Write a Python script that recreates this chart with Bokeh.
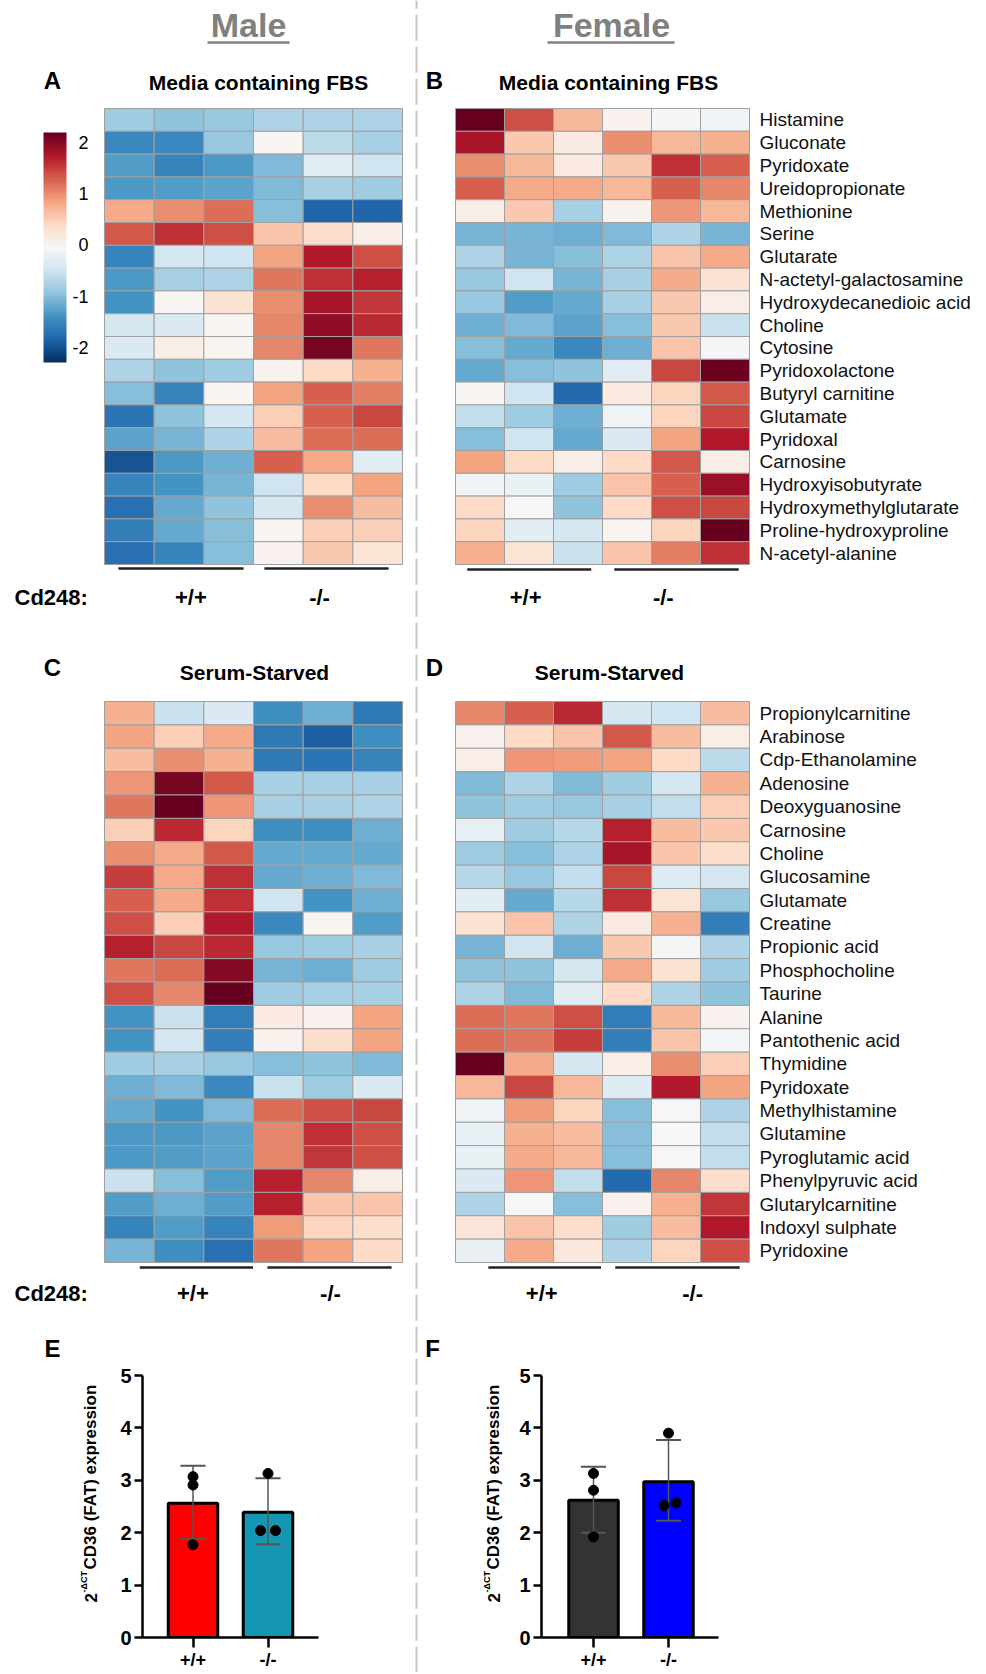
import numpy as np
from bokeh.plotting import figure
from bokeh.models import Range1d, LinearColorMapper, ColumnDataSource, FixedTicker
from bokeh.layouts import row, column
from bokeh.embed import file_html
from bokeh.resources import INLINE
from bokeh.core.properties import value
from bokeh.transform import transform

FONT = "Liberation Sans"

# ---------------- data ----------------
genotypes = ["+/+", "-/-"]
cb_ticks = [2, 1, 0, -1, -2]

a_values = [
    [-0.85, -0.95, -0.9, -0.75, -0.75, -0.75],
    [-1.5, -1.5, -0.9, 0.0, -0.65, -0.8],
    [-1.3, -1.55, -1.35, -1.05, -0.3, -0.5],
    [-1.35, -1.3, -1.25, -1.05, -0.8, -0.85],
    [0.8, 1.0, 1.2, -1.0, -1.85, -1.85],
    [1.35, 1.6, 1.4, 0.6, 0.35, 0.1],
    [-1.55, -0.45, -0.5, 0.85, 1.75, 1.4],
    [-1.35, -0.8, -0.75, 1.15, 1.6, 1.7],
    [-1.4, 0.0, 0.3, 1.0, 1.8, 1.55],
    [-0.45, -0.4, 0.0, 1.05, 1.95, 1.65],
    [-0.4, 0.1, 0.0, 1.05, 2.1, 1.15],
    [-0.75, -0.95, -0.85, 0.05, 0.4, 0.75],
    [-1.0, -1.55, 0.0, 0.85, 1.3, 1.1],
    [-1.7, -0.95, -0.45, 0.5, 1.3, 1.45],
    [-1.25, -1.1, -0.75, 0.65, 1.2, 1.2],
    [-2.0, -1.35, -1.15, 1.3, 0.8, -0.3],
    [-1.55, -1.4, -1.1, -0.5, 0.4, 0.85],
    [-1.75, -1.2, -0.95, -0.45, 1.0, 0.65],
    [-1.6, -1.2, -1.0, 0.0, 0.5, 0.5],
    [-1.75, -1.55, -1.0, 0.05, 0.55, 0.25],
]

b_metabolites = ["Histamine", "Gluconate", "Pyridoxate", "Ureidopropionate", "Methionine",
                 "Serine", "Glutarate", "N-actetyl-galactosamine", "Hydroxydecanedioic acid",
                 "Choline", "Cytosine", "Pyridoxolactone", "Butyryl carnitine", "Glutamate",
                 "Pyridoxal", "Carnosine", "Hydroxyisobutyrate", "Hydroxymethylglutarate",
                 "Proline-hydroxyproline", "N-acetyl-alanine"]
b_values = [
    [2.25, 1.4, 0.7, 0.05, -0.1, -0.15],
    [1.8, 0.55, 0.15, 1.0, 0.7, 0.75],
    [1.0, 0.7, 0.15, 0.55, 1.6, 1.3],
    [1.3, 0.8, 0.8, 0.7, 1.3, 1.05],
    [0.1, 0.55, -0.8, 0.05, 0.95, 0.7],
    [-1.1, -1.1, -1.15, -1.05, -0.75, -1.1],
    [-0.75, -1.1, -1.0, -0.75, 0.6, 0.8],
    [-0.9, -0.5, -1.1, -0.8, 0.8, 0.3],
    [-0.9, -1.3, -1.2, -0.8, 0.55, 0.1],
    [-1.15, -1.05, -1.25, -1.0, 0.55, -0.55],
    [-1.0, -1.2, -1.5, -1.15, 0.6, -0.1],
    [-1.2, -1.0, -0.95, -0.3, 1.45, 2.15],
    [0.0, -0.5, -1.8, 0.15, 0.45, 1.35],
    [-0.6, -0.85, -1.15, -0.15, 0.45, 1.45],
    [-1.0, -0.5, -1.2, -0.4, 0.85, 1.75],
    [0.85, 0.4, 0.1, 0.4, 1.35, 0.1],
    [-0.15, -0.2, -0.85, 0.6, 1.3, 1.9],
    [0.4, -0.05, -0.95, 0.4, 1.4, 1.45],
    [0.45, -0.3, -0.45, 0.0, 0.45, 2.35],
    [0.75, 0.25, -0.55, 0.6, 1.1, 1.6],
]

c_values = [
    [0.75, -0.55, -0.4, -1.45, -1.15, -1.65],
    [0.85, 0.5, 0.8, -1.65, -1.9, -1.45],
    [0.65, 1.0, 0.75, -1.65, -1.7, -1.55],
    [0.95, 2.1, 1.35, -0.8, -0.8, -0.8],
    [1.15, 2.35, 0.95, -0.8, -0.8, -0.75],
    [0.5, 1.65, 0.45, -1.45, -1.45, -1.15],
    [1.0, 0.8, 1.35, -1.2, -1.2, -1.2],
    [1.5, 0.8, 1.6, -1.2, -1.15, -1.05],
    [1.3, 0.8, 1.6, -0.5, -1.4, -1.15],
    [1.4, 0.5, 1.75, -1.5, 0.0, -1.3],
    [1.7, 1.45, 1.65, -0.9, -0.85, -0.8],
    [1.15, 1.2, 2.0, -1.1, -1.15, -0.85],
    [1.4, 1.05, 2.2, -0.85, -0.8, -0.8],
    [-1.4, -0.55, -1.6, 0.15, 0.05, 0.85],
    [-1.4, -0.45, -1.6, 0.05, 0.35, 0.85],
    [-0.85, -0.8, -0.9, -1.0, -0.95, -1.05],
    [-1.15, -1.05, -1.5, -0.55, -0.85, -0.4],
    [-1.2, -1.4, -1.05, 1.2, 1.4, 1.45],
    [-1.35, -1.35, -1.25, 1.05, 1.6, 1.4],
    [-1.35, -1.3, -1.25, 1.05, 1.55, 1.4],
    [-0.55, -1.0, -1.3, 1.7, 1.05, 0.1],
    [-1.3, -1.15, -1.3, 1.7, 0.6, 0.6],
    [-1.55, -1.3, -1.55, 0.9, 0.45, 0.35],
    [-1.1, -1.45, -1.75, 1.15, 0.85, 0.4],
]

d_metabolites = ["Propionylcarnitine", "Arabinose", "Cdp-Ethanolamine", "Adenosine",
                 "Deoxyguanosine", "Carnosine", "Choline", "Glucosamine", "Glutamate",
                 "Creatine", "Propionic acid", "Phosphocholine", "Taurine", "Alanine",
                 "Pantothenic acid", "Thymidine", "Pyridoxate", "Methylhistamine",
                 "Glutamine", "Pyroglutamic acid", "Phenylpyruvic acid", "Glutarylcarnitine",
                 "Indoxyl sulphate", "Pyridoxine"]
d_values = [
    [1.05, 1.3, 1.65, -0.45, -0.5, 0.65],
    [0.05, 0.4, 0.6, 1.35, 0.65, 0.1],
    [0.1, 0.95, 0.9, 0.85, 0.4, -0.65],
    [-1.05, -0.75, -1.05, -0.85, -0.45, 0.75],
    [-0.95, -0.85, -0.9, -0.8, -0.6, 0.5],
    [-0.25, -0.85, -0.7, 1.7, 0.65, 0.55],
    [-0.85, -1.0, -0.75, 1.8, 0.6, 0.35],
    [-0.7, -0.9, -0.6, 1.45, -0.35, -0.45],
    [-0.3, -1.2, -0.7, 1.6, 0.25, -0.9],
    [0.3, 0.6, -0.75, 0.15, 0.75, -1.6],
    [-1.1, -0.5, -1.15, 0.55, -0.1, -0.75],
    [-0.95, -0.95, -0.45, 0.8, 0.3, -0.85],
    [-0.75, -1.05, -0.3, 0.4, -0.75, -0.95],
    [1.2, 1.15, 1.4, -1.6, 0.7, 0.05],
    [1.2, 1.15, 1.5, -1.6, 0.6, -0.1],
    [2.35, 0.8, -0.45, 0.1, 1.0, 0.5],
    [0.7, 1.45, 0.7, -0.35, 1.75, 0.85],
    [-0.15, 0.9, 0.45, -1.0, -0.05, -0.75],
    [-0.25, 0.75, 0.65, -1.0, -0.05, -0.6],
    [-0.2, 0.8, 0.7, -1.0, -0.05, -0.6],
    [-0.4, 0.95, -0.6, -1.8, 1.05, 0.35],
    [-0.75, -0.05, -1.0, 0.05, 0.75, 1.55],
    [0.25, 0.6, 0.35, -0.85, 0.65, 1.75],
    [-0.2, 0.8, 0.2, -0.75, 0.45, 1.4],
]

e_means = [2.56, 2.39]
e_upper = [3.28, 3.04]
e_lower = [1.88, 1.78]
e_points = [[3.07, 2.91, 1.77], [3.13, 2.04, 2.04]]
e_jitter = [[0.0, 0.0, 0.0], [0.0, -0.1, 0.1]]
e_colors = ["#ff0000", "#1597b1"]

f_means = [2.62, 2.97]
f_upper = [3.26, 3.77]
f_lower = [2.00, 2.23]
f_points = [[3.13, 2.81, 1.92], [3.90, 2.52, 2.57]]
f_jitter = [[0.0, 0.0, 0.0], [0.0, -0.06, 0.1]]
f_colors = ["#333333", "#0000ff"]

# diverging palette, low (blue) -> high (red)
RDBU = ["#053061", "#2166ac", "#4393c3", "#92c5de", "#d1e5f0", "#f7f7f7",
        "#fddbc7", "#f4a582", "#d6604d", "#b2182b", "#67001f"]


# ---------------- helpers ----------------
def interp_palette(colors, n):
    rgb = np.array([[int(c[i:i + 2], 16) for i in (1, 3, 5)] for c in colors], float)
    pos = np.linspace(0, 1, len(colors))
    t = np.linspace(0, 1, n)
    out = np.stack([np.interp(t, pos, rgb[:, k]) for k in range(3)], 1)
    return ["#%02x%02x%02x" % tuple(int(round(v)) for v in r) for r in out]


PALETTE = interp_palette(RDBU, 256)
CB_LOW, CB_HIGH = -2.3, 2.2
mapper = LinearColorMapper(palette=PALETTE, low=CB_LOW, high=CB_HIGH)


def bare_figure(w, h, xr, yr):
    p = figure(width=w, height=h, x_range=xr, y_range=yr, toolbar_location=None,
               output_backend="svg", x_axis_location=None, y_axis_location=None,
               min_border=0)
    p.frame_align = False
    p.grid.visible = False
    p.outline_line_color = None
    return p


class HeatPanel:
    """A figure whose frame fills the whole figure; cells in column/row units."""

    def __init__(self, fig_x, fig_y, w, h, box, nrows, ncols=6):
        l, r, t, b = box
        self.l, self.t = l, t
        self.cw = (r - l) / ncols
        self.rh = (b - t) / nrows
        xr = Range1d(self.x(fig_x), self.x(fig_x + w))
        yr = Range1d(self.y(fig_y + h), self.y(fig_y))
        self.p = bare_figure(w, h, xr, yr)

    def x(self, X):
        return (X - self.l) / self.cw

    def y(self, Y):
        return (Y - self.t) / self.rh

    def text(self, X, Y, s, size, bold=False, color="black", align="center"):
        self.p.text(x=[self.x(X)], y=[self.y(Y)], text=[s], text_font=value(FONT),
                    text_font_size=size, text_font_style="bold" if bold else "normal",
                    text_color=color, text_align=align, text_baseline="middle")

    def heat(self, vals):
        xs, ys, vs = [], [], []
        for i, rv in enumerate(vals):
            for j, v in enumerate(rv):
                xs.append(j + 0.5)
                ys.append(i + 0.5)
                vs.append(v)
        src = ColumnDataSource(dict(x=xs, y=ys, v=vs))
        self.p.rect("x", "y", 1, 1, source=src, fill_color=transform("v", mapper),
                    line_color="#a0a0a0", line_width=1)

    def row_labels(self, names, X, size="19px"):
        self.p.text(x=[self.x(X)] * len(names), y=[i + 0.5 for i in range(len(names))],
                    text=names, text_font=value(FONT), text_font_size=size,
                    text_align="left", text_baseline="middle", text_color="#111111")

    def groups(self, lines, label_x, Yline, Ylab, show_cd=False):
        self.p.segment(x0=[a for a, b in lines], x1=[b for a, b in lines],
                       y0=[self.y(Yline)] * 2, y1=[self.y(Yline)] * 2,
                       line_color="#222222", line_width=2.5)
        self.p.text(x=label_x, y=[self.y(Ylab)] * 2, text=genotypes, text_font=value(FONT),
                    text_font_size="22px", text_font_style="bold", text_align="center",
                    text_baseline="middle")
        if show_cd:
            self.text(14, Ylab, "Cd248:", "22px", bold=True, align="left")


# ---------------- geometry (page pixels, page origin = top-left) ----------------
LW, SW, RW = 414, 4, 562
H1, H2, H3 = 620, 688, 364
Y1, Y2, Y3 = 0, H1, H1 + H2
XL, XR = 0, LW + SW

# Panel A
A = HeatPanel(XL, Y1, LW, H1, (104, 402, 108, 564), len(a_values))
A.text(248, 24, "Male", "34px", bold=True, color="#808080")
A.p.segment(x0=[A.x(207)], x1=[A.x(289)], y0=[A.y(42)], y1=[A.y(42)], line_color="#808080", line_width=2.5)
A.text(52, 80, "A", "24px", bold=True)
A.text(258, 82, "Media containing FBS", "21px", bold=True)
A.heat(a_values)
A.groups([(0.28, 2.80), (3.22, 5.72)], [1.74, 4.33], 568, 597, show_cd=True)


def cb_val(Y):
    return CB_HIGH - (Y - 132) * (CB_HIGH - CB_LOW) / (362 - 132)


A.p.extra_y_ranges = {"cb": Range1d(cb_val(Y1 + H1), cb_val(Y1))}
A.p.image(image=[np.linspace(CB_LOW, CB_HIGH, 300).reshape(-1, 1)], x=A.x(43), y=CB_LOW,
          dw=A.x(66) - A.x(43), dh=CB_HIGH - CB_LOW, color_mapper=mapper, y_range_name="cb")
A.p.text(x=[A.x(88)] * len(cb_ticks), y=cb_ticks, text=[str(t) for t in cb_ticks],
         text_font=value(FONT), text_font_size="18px", text_align="right",
         text_baseline="middle", y_range_name="cb")

# Panel B
B = HeatPanel(XR, Y1, RW, H1, (455, 749, 108, 564), len(b_values))
B.text(611, 24, "Female", "34px", bold=True, color="#808080")
B.p.segment(x0=[B.x(547)], x1=[B.x(674)], y0=[B.y(42)], y1=[B.y(42)], line_color="#808080", line_width=2.5)
B.text(434, 80, "B", "24px", bold=True)
B.text(608, 82, "Media containing FBS", "21px", bold=True)
B.heat(b_values)
B.row_labels(b_metabolites, 759)
B.groups([(0.24, 2.77), (3.24, 5.78)], [1.43, 4.24], 569, 597)

# Panel C
C = HeatPanel(XL, Y2, LW, H2, (104, 402, 701, 1262), len(c_values))
C.text(52, 667, "C", "24px", bold=True)
C.text(254, 672, "Serum-Starved", "21px", bold=True)
C.heat(c_values)
C.groups([(0.71, 2.99), (3.28, 5.78)], [1.78, 4.55], 1267, 1293, show_cd=True)

# Panel D
D = HeatPanel(XR, Y2, RW, H2, (455, 749, 701, 1262), len(d_values))
D.text(434, 667, "D", "24px", bold=True)
D.text(609, 672, "Serum-Starved", "21px", bold=True)
D.heat(d_values)
D.row_labels(d_metabolites, 759)
D.groups([(0.67, 2.97), (3.26, 5.80)], [1.76, 4.84], 1267, 1293)


# ---------------- bar charts ----------------
def bar_panel(fig_x, fig_y, w, h, lab_w, frame, centers, letter, lab_base,
              means, upper, lower, points, jitter, colors):
    # left part: panel letter and rotated y-axis title
    lp = bare_figure(lab_w, h, Range1d(fig_x, fig_x + lab_w), Range1d(fig_y + h, fig_y))
    lp.text(x=[letter[1]], y=[1348], text=[letter[0]], text_font=value(FONT),
            text_font_size="24px", text_font_style="bold", text_align="center",
            text_baseline="middle")
    rot = dict(angle=np.pi / 2, text_font=value(FONT), text_font_style="bold",
               text_align="left", text_baseline="alphabetic")
    lp.text(x=[lab_base], y=[1602], text=["2"], text_font_size="17px", **rot)
    lp.text(x=[lab_base - 7], y=[1592], text=["-\u0394CT"], text_font_size="9px", **rot)
    lp.text(x=[lab_base], y=[1569], text=["CD36 (FAT) expression"], text_font_size="17px", **rot)

    fl, fr, ft, fb = frame
    bx = fig_x + lab_w
    bw = w - lab_w
    upx = centers[1] - centers[0]
    xr = Range1d(1 - (centers[0] - fl) / upx, 2 + (fr - centers[1]) / upx)
    p = figure(width=bw, height=h, x_range=xr, y_range=Range1d(0, 5), toolbar_location=None,
               output_backend="svg", min_border_left=fl - bx, min_border_right=bx + bw - fr,
               min_border_top=ft - fig_y, min_border_bottom=fig_y + h - fb)
    p.frame_align = False
    p.grid.visible = False
    p.outline_line_color = None
    for ax in (p.xaxis[0], p.yaxis[0]):
        ax.axis_line_width = 2.5
        ax.axis_line_color = "black"
        ax.major_tick_line_width = 2.5
        ax.major_tick_line_color = "black"
        ax.major_tick_in = 0
        ax.major_tick_out = 8
        ax.minor_tick_line_color = None
        ax.major_label_text_font = FONT
        ax.major_label_text_font_style = "bold"
        ax.major_label_text_font_size = "20px"
        ax.major_label_text_color = "black"
        ax.major_label_standoff = 3
    p.xaxis.major_tick_out = 10
    p.xaxis.major_label_text_font_size = "18px"
    p.xaxis.major_label_standoff = 2
    p.yaxis.ticker = FixedTicker(ticks=[0, 1, 2, 3, 4, 5])
    p.xaxis.ticker = FixedTicker(ticks=[1, 2])
    p.xaxis.major_label_overrides = {1: genotypes[0], 2: genotypes[1]}

    xs = [1, 2]
    p.vbar(x=xs, top=means, bottom=0, width=0.66, fill_color=colors, line_color="black", line_width=3)
    p.segment(x0=xs, x1=xs, y0=lower, y1=upper, line_color="#555555", line_width=1.5)
    cap = 0.167
    p.segment(x0=[x - cap for x in xs] * 2, x1=[x + cap for x in xs] * 2, y0=upper + lower,
              y1=upper + lower, line_color="#555555", line_width=2)
    px_, py_ = [], []
    for g in range(2):
        for v, j in zip(points[g], jitter[g]):
            px_.append(xs[g] + j)
            py_.append(v)
    p.scatter(x=px_, y=py_, size=10, color="black")
    return row(lp, p, spacing=0)


pE = bar_panel(XL, Y3, LW, H3, 108, (142, 318, 1375, 1638), (192.5, 267.5), ("E", 52), 90,
               e_means, e_upper, e_lower, e_points, e_jitter, e_colors)
pF = bar_panel(XR, Y3, RW, H3, 89, (541, 718, 1375, 1638), (593, 668), ("F", 432), 493,
               f_means, f_upper, f_lower, f_points, f_jitter, f_colors)

# ---------------- dashed separator ----------------
sep = bare_figure(SW, H1 + H2 + H3, Range1d(0, 1), Range1d(0, 1))
sep.segment(x0=[0.5], x1=[0.5], y0=[0], y1=[1], line_color="#c4c4c4", line_width=2, line_dash="26 6")

layout = row(column(A.p, C.p, pE, spacing=0), sep, column(B.p, D.p, pF, spacing=0), spacing=0)

open("out.html", "w").write(file_html(layout, INLINE))
